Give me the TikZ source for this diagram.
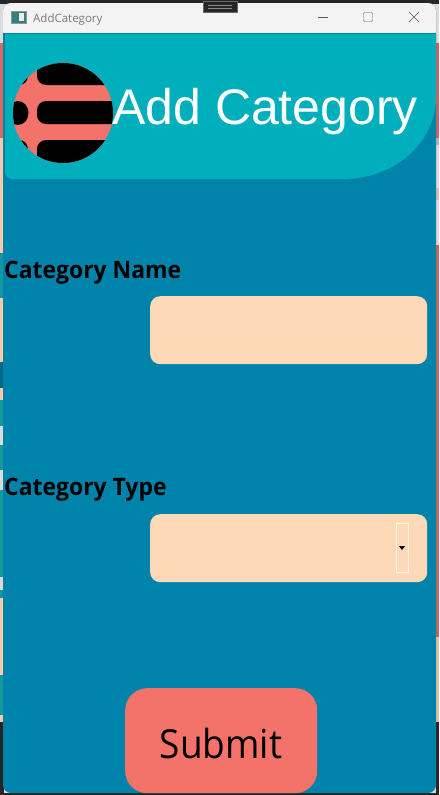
\documentclass[tikz,border=0pt]{standalone}
\usepackage{fontspec}
\setmainfont{Open Sans}
\newfontfamily\headfont{Liberation Sans}
\newfontfamily\formfont[FakeStretch=0.925]{Open Sans}
\newfontfamily\labelfont[FakeStretch=0.955]{Open Sans}
\usetikzlibrary{positioning}
\definecolor{panelblue}{RGB}{0,131,170}
\definecolor{headteal}{RGB}{0,175,187}
\definecolor{salmon}{RGB}{243,114,106}
\definecolor{peach}{RGB}{253,217,184}
\definecolor{barwhite}{RGB}{243,243,243}
\definecolor{glyphgrey}{RGB}{120,120,120}
\definecolor{stripteal}{RGB}{18,150,160}
\tikzset{
  fieldbox/.style={draw=none, fill=peach, rounded corners=10pt, minimum width=277pt, minimum height=68pt, inner sep=0pt, anchor=north west},
  labeltext/.style={inner sep=0pt, anchor=base west, font=\fontsize{24}{24}\selectfont\labelfont\bfseries},
  stripe/.style={fill=black, rounded corners=9pt}
}
\begin{document}
\begin{tikzpicture}[x=1pt,y=-1pt]
\useasboundingbox (0,0) rectangle (439,795);

% Draw windows behind
\fill[barwhite!90!black] (0,0) rectangle (439,795);
\fill[black!85] (0,0) rectangle (439,4);
\fill[salmon!90!black] (0,43) rectangle (4,138);
\fill[peach!85!brown] (0,138) rectangle (4,253);
\fill[stripteal] (0,253) rectangle (4,298);
\fill[peach!85!brown] (0,298) rectangle (4,362);
\fill[panelblue!80!black] (0,362) rectangle (4,388);
\fill[peach!85!brown] (0,388) rectangle (4,400);
\fill[stripteal] (0,400) rectangle (4,426);
\fill[stripteal] (0,445) rectangle (4,470);
\fill[stripteal] (0,490) rectangle (4,577);
\fill[stripteal] (0,590) rectangle (4,598);
\fill[peach!85!brown] (0,598) rectangle (4,675);
\fill[stripteal] (0,675) rectangle (4,715);
\fill[peach!85!brown] (0,715) rectangle (4,722);
\fill[salmon!85!black] (436,43) rectangle (439,138);
\fill[black!30] (436,138) rectangle (439,145);
\fill[peach!70!gray] (436,188) rectangle (439,200);
\fill[salmon!85!black] (436,245) rectangle (439,637);
\fill[peach!75!gray] (436,637) rectangle (439,722);
\fill[black!85] (0,722) rectangle (4,795);
\fill[black!85] (436,722) rectangle (439,795);
\fill[black!85] (0,793) rectangle (439,795);

% Draw window
\fill[panelblue, rounded corners=8pt] (3,3) rectangle (436,793);
\fill[barwhite, rounded corners=8pt] (3,3) rectangle (436,28);
\fill[barwhite] (3,20) rectangle (436,33);
\fill[black!85, draw=black!60] (203,1) rectangle (237,12);
\draw[black!45] (208,5.5) -- (232,5.5) (208,8) -- (232,8);

% Draw title bar
\fill[teal!60!gray] (11,11) rectangle (26,23);
\fill[white!85!gray] (19,13) rectangle (24,21);
\draw[glyphgrey!80] (11,11) rectangle (26,23);
\node[inner sep=0pt, anchor=base west, text=glyphgrey, font=\fontsize{11.5}{12}\selectfont] (wintitle) at (33,22) {AddCategory};
\draw[black!65] (318,17.5) -- (328,17.5);
\draw[black!65, rounded corners=1pt] (363.5,12.5) rectangle (372.5,21.5);
\draw[black!65] (409,12) -- (419,22) (419,12) -- (409,22);

% Draw header
\fill[headteal] (5,34) -- (436,34) -- (436,97) .. controls (436,142) and (395,179) .. (343,179)
  -- (13,179) .. controls (8,179) and (5,176) .. (5,171) -- cycle;

% Draw logo
\begin{scope}
\clip (63,113) circle (50);
\fill[salmon] (13,63) rectangle (113,163);
\fill[stripe] (37,50) rectangle (130,85);
\fill[stripe] (37,101) rectangle (130,124);
\fill[stripe] (37,140) rectangle (130,175);
\fill[stripe] (0,50) rectangle (28,85);
\fill[black] (18,113) ellipse (10.5 and 12);
\fill[stripe] (0,140) rectangle (28,175);
\end{scope}

\node[inner sep=0pt, anchor=base west, text=white, font=\fontsize{50}{50}\selectfont\headfont] (headtitle) at (112,124) {Add Category};

% Draw fields
\node[labeltext] (namelabel) at (4,278) {Category Name};
\node[fieldbox] (namefield) at (150,296) {};
\node[labeltext] (typelabel) at (4,495) {Category Type};
\node[fieldbox] (typefield) at (150,514) {};
\draw[white!70!peach] (396,523) rectangle (408,572);
\fill[black] (399,546) -- (405,546) -- (402,550) -- cycle;

% Draw button
\node[fill=salmon, rounded corners=22pt, minimum width=192pt, minimum height=105pt, inner sep=0pt, anchor=north west] (submitbtn) at (125,688) {};
\node[inner sep=0pt, font=\fontsize{40}{40}\selectfont\formfont] (submittext) at (221,743) {Submit};
\end{tikzpicture}
\end{document}
